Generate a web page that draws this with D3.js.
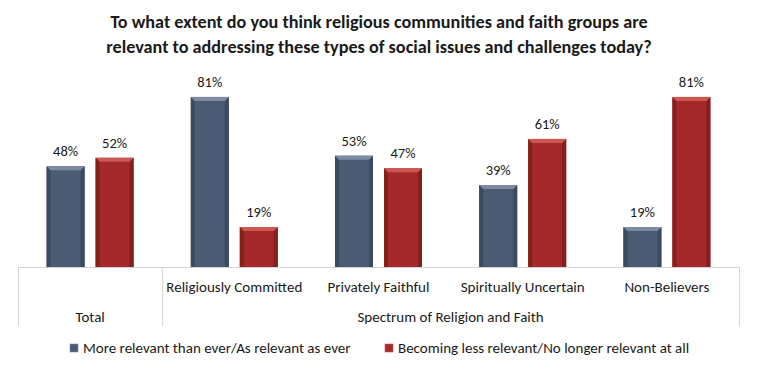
<!DOCTYPE html>
<html>
<head>
<meta charset="utf-8">
<script src="https://cdn.jsdelivr.net/npm/d3@7"></script>
<style>
  body { margin: 0; background: #fff; }
  svg text { font-family: Carlito, Calibri, "Liberation Sans Narrow", "Open Sans", sans-serif; fill: #1a1a1a; }
</style>
</head>
<body>
<div id="chart"></div>
<script>
var categories = ['Total', 'Religiously Committed', 'Privately Faithful', 'Spiritually Uncertain', 'Non-Believers'];
var groupLabels = ['Total', 'Spectrum of Religion and Faith'];
var seriesNames = ['More relevant than ever/As relevant as ever', 'Becoming less relevant/No longer relevant at all'];
var moreRelevant = [48, 81, 53, 39, 19];
var lessRelevant = [52, 19, 47, 61, 81];
var titleLines = [
    'To what extent do you think religious communities and faith groups are',
    'relevant to addressing these types of social issues and challenges today?'
];

var width = 757, height = 372;
var baseY = 267;

var colors = [
    {base: '#4b5b73', light: '#7d8ca3', dark: '#3c4960'},
    {base: '#a3292a', light: '#cc5750', dark: '#841f1e'}
];

var svg = d3.select('#chart').append('svg').attr('width', width).attr('height', height);

svg.selectAll('text.title')
    .data(titleLines)
    .enter().append('text')
    .attr('class', 'title')
    .attr('x', 379)
    .attr('y', function (d, i) { return 28 + i * 25; })
    .attr('text-anchor', 'middle')
    .style('font-size', '18.2px')
    .style('font-weight', 'bold')
    .text(function (d) { return d; });

var x0 = d3.scaleBand().domain(categories).range([18, 739]).padding(0);
var x1 = d3.scaleBand().domain([0, 1]).range([0, x0.bandwidth()])
    .paddingInner(0.2245).paddingOuter(0.584);
var y = d3.scaleLinear().domain([0, 100]).range([baseY, baseY - 210]);

var bars = [];
categories.forEach(function (c, i) {
    bars.push({cat: c, s: 0, v: moreRelevant[i]});
    bars.push({cat: c, s: 1, v: lessRelevant[i]});
});

var b = 4;
var barG = svg.selectAll('g.bar').data(bars).enter().append('g').attr('class', 'bar')
    .attr('transform', function (d) { return 'translate(' + (x0(d.cat) + x1(d.s)) + ',' + y(d.v) + ')'; });

barG.append('rect')
    .attr('width', x1.bandwidth())
    .attr('height', function (d) { return baseY - y(d.v); })
    .attr('fill', function (d) { return colors[d.s].base; });

// bevel edges
barG.append('path')
    .attr('fill', function (d) { return colors[d.s].dark; })
    .attr('d', function (d) {
        var h = baseY - y(d.v);
        return 'M0,0L' + b + ',' + b + 'L' + b + ',' + h + 'L0,' + h + 'Z';
    });
barG.append('path')
    .attr('fill', function (d) { return colors[d.s].dark; })
    .attr('d', function (d) {
        var h = baseY - y(d.v), w = x1.bandwidth();
        return 'M' + w + ',0L' + (w - b) + ',' + b + 'L' + (w - b) + ',' + h + 'L' + w + ',' + h + 'Z';
    });
barG.append('path')
    .attr('fill', function (d) { return colors[d.s].light; })
    .attr('d', function (d) {
        var w = x1.bandwidth();
        return 'M0,0L' + w + ',0L' + (w - b) + ',' + b + 'L' + b + ',' + b + 'Z';
    });

svg.selectAll('text.val').data(bars).enter().append('text')
    .attr('class', 'val')
    .attr('x', function (d) { return x0(d.cat) + x1(d.s) + x1.bandwidth() / 2; })
    .attr('y', function (d) { return y(d.v) - 10; })
    .attr('text-anchor', 'middle')
    .style('font-size', '14.5px')
    .text(function (d) { return d.v + '%'; });

// axis and category frame
var axisColor = '#d4d4d4';
svg.append('line').attr('x1', 18).attr('x2', 739).attr('y1', baseY + 0.5).attr('y2', baseY + 0.5)
    .attr('stroke', axisColor);
[x0('Total'), x0(categories[1]), x0.range()[1]].forEach(function (xv) {
    svg.append('line').attr('x1', xv + 0.5).attr('x2', xv + 0.5).attr('y1', baseY).attr('y2', 326)
        .attr('stroke', axisColor);
});

svg.selectAll('text.cat').data(categories.slice(1)).enter().append('text')
    .attr('class', 'cat')
    .attr('x', function (d) { return x0(d) + x0.bandwidth() / 2; })
    .attr('y', 292)
    .attr('text-anchor', 'middle')
    .style('font-size', '15px')
    .text(function (d) { return d; });

svg.append('text')
    .attr('x', x0('Total') + x0.bandwidth() / 2).attr('y', 322)
    .attr('text-anchor', 'middle').style('font-size', '15px')
    .text(groupLabels[0]);
svg.append('text')
    .attr('x', (x0(categories[1]) + x0.range()[1]) / 2).attr('y', 322)
    .attr('text-anchor', 'middle').style('font-size', '15px')
    .text(groupLabels[1]);

// legend
var legendX = [70, 385];
var leg = svg.selectAll('g.leg').data(seriesNames).enter().append('g').attr('class', 'leg')
    .attr('transform', function (d, i) { return 'translate(' + legendX[i] + ',344)'; });
leg.append('rect').attr('width', 8).attr('height', 8)
    .attr('fill', function (d, i) { return colors[i].base; })
    .attr('stroke', function (d, i) { return colors[i].light; }).attr('stroke-width', 0.6);
leg.append('text').attr('x', 13).attr('y', 9).style('font-size', '15px')
    .text(function (d) { return d; });
</script>
</body>
</html>
